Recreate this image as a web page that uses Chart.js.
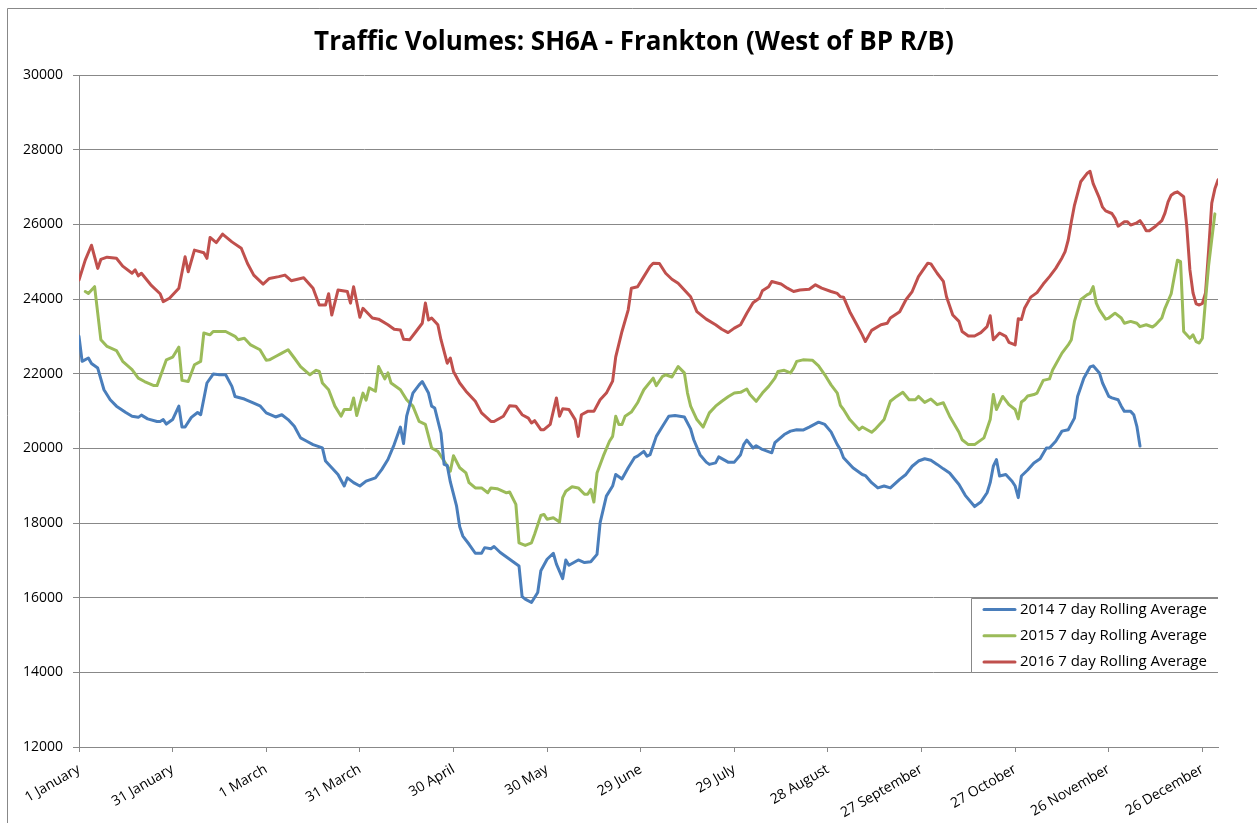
<!DOCTYPE html>
<html>
<head>
<meta charset="utf-8">
<title>Traffic Volumes: SH6A - Frankton</title>
<script src="https://cdn.jsdelivr.net/npm/chart.js@4.4.1/dist/chart.umd.min.js"></script>
<style>
  html, body { margin: 0; padding: 0; background: #fff; }
  #wrap { width: 1257px; height: 823px; }
</style>
</head>
<body>
<div id="wrap"><canvas id="trafficChart" width="1257" height="823"></canvas></div>
<script>
// x axis = day of the year (0 = 1 January), ticks every 30 days
const tickDays = [0, 30, 60, 90, 120, 150, 180, 210, 240, 270, 300, 330, 360];
const tickLabels = ['1 January', '31 January', '1 March', '31 March', '30 April', '30 May', '29 June',
  '29 July', '28 August', '27 September', '27 October', '26 November', '26 December'];
const seriesNames = ['2014 7 day Rolling Average', '2015 7 day Rolling Average', '2016 7 day Rolling Average'];
const seriesColors = ['#4a7ebb', '#9bbb59', '#c0504d'];
const chartTitle = 'Traffic Volumes: SH6A - Frankton (West of BP R/B)';

// 2014 (blue)
const days2014 = [0,1,3,4,6,8,10,12,15,17,19,20,22,25,26,27,28,30,32,33,34,36,38,39,41,43,45,47,49,50,53,56,58,
  60,63,65,67,69,71,73,75,78,79,81,83,85,86,88,90,92,95,97,99,101,103,104,105,107,109,110,112,113,114,116,117,118,
  119,121,122,123,125,127,129,130,132,133,135,138,141,142,143,145,147,148,150,152,153,155,156,157,160,162,164,166,
  167,169,171,172,174,176,178,179,181,182,183,185,187,189,191,194,196,197,199,201,202,204,205,208,210,212,213,214,
  216,217,219,222,223,226,228,230,232,234,237,239,241,243,244,245,248,251,252,254,256,258,260,263,265,267,269,271,
  273,275,277,279,282,284,287,289,291,292,293,294,295,297,299,300,301,302,304,306,308,310,311,313,315,317,319,320,
  322,324,325,327,328,330,331,333,334,335,337,338,339,340];
const vol2014 = [23000,22330,22420,22270,22150,21570,21300,21130,20960,20860,20830,20890,20790,20720,20720,20770,20650,20770,21130,20570,20570,20830,20960,20900,21750,21990,21970,21970,21660,21390,21320,21210,21140,
  20950,20840,20900,20770,20590,20280,20190,20100,20010,19660,19480,19300,18990,19210,19080,18990,19120,19210,19430,19700,20100,20570,20130,20860,21480,21700,21790,21480,21130,21080,20410,19570,19540,
  19100,18450,17900,17650,17430,17190,17190,17340,17310,17370,17210,17030,16850,16030,15960,15870,16140,16720,17030,17190,16900,16510,17010,16870,17010,16940,16960,17160,
  18010,18720,18990,19300,19180,19480,19750,19790,19920,19790,19830,20320,20590,20860,20880,20840,20520,20230,19830,19630,19570,19610,19770,19630,19630,19830,20100,20220,
  20010,20070,19970,19880,20150,20370,20460,20500,20490,20570,20700,20640,20440,20100,19970,19750,19480,19300,19270,19080,18940,18990,18940,19170,19300,19520,19660,19720,
  19680,19570,19450,19340,19030,18740,18440,18560,18810,19080,19520,19700,19260,19300,19120,18990,18680,19260,19420,19610,19720,20010,20010,20190,20460,20500,20810,21390,
  21880,22180,22210,22020,21750,21390,21350,21300,21130,20990,20990,20900,20590,20060];

// 2015 (green)
const days2015 = [2,3,5,7,9,12,14,17,19,21,24,25,28,30,32,33,35,37,39,40,42,43,47,50,51,53,55,58,60,61,63,65,67,69,
  71,74,76,77,78,80,82,84,85,87,88,89,91,92,93,95,96,98,99,100,103,105,107,109,111,113,115,117,119,120,122,124,125,
  127,129,131,132,134,137,138,140,141,143,145,146,148,149,150,152,154,155,156,158,160,162,163,164,165,166,168,170,
  171,172,173,174,175,177,179,180,181,184,185,187,188,190,192,194,195,196,198,200,202,204,206,208,210,212,214,215,
  217,219,221,223,224,226,228,229,230,232,235,237,239,241,243,244,245,247,250,251,254,255,258,260,262,264,266,268,
  269,271,273,275,277,279,282,283,285,287,290,292,293,294,296,298,300,301,302,303,304,306,307,309,311,312,315,317,
  318,319,321,323,324,325,326,327,329,330,332,334,335,337,339,340,342,344,345,347,348,350,351,352,353,354,356,357,
  358,359,360,361,362,363,364];
const vol2015 = [24200,24150,24330,22910,22730,22620,22330,22110,21880,21790,21680,21680,22370,22440,22710,21820,21790,22240,22330,23090,23040,23130,23130,23000,22910,22950,22770,22640,22360,22370,22460,22550,22640,22420,
  22190,21970,22090,22060,21750,21570,21130,20860,21040,21040,21350,20880,21480,21290,21620,21530,22190,21860,22020,21750,21570,21300,21130,20720,20640,20010,19920,19660,19390,19800,19480,19340,19080,
  18940,18940,18810,18940,18920,18810,18830,18500,17470,17400,17470,17700,18200,18230,18100,18140,18030,18680,18850,18970,18940,18770,18770,18900,18560,19340,19790,20190,
  20320,20860,20640,20640,20860,20970,21220,21400,21570,21880,21680,21930,21970,21910,22190,22020,21480,21130,20770,20570,20950,21130,21260,21380,21480,21500,21590,21440,
  21260,21480,21660,21880,22060,22090,22020,22150,22330,22370,22360,22210,21970,21700,21480,21150,21040,20770,20500,20570,20430,20500,20770,21260,21390,21500,21300,21300,
  21390,21230,21320,21170,21220,20860,20430,20230,20100,20100,20280,20770,21440,21040,21390,21170,21040,20790,21240,21300,21400,21440,21480,21820,21860,22100,22550,22770,
  22910,23400,23980,24110,24150,24330,23890,23710,23460,23490,23620,23490,23350,23400,23350,23260,23310,23250,23310,23490,23750,24140,24600,25040,25000,23130,22950,23040,
  22860,22820,22950,23970,24900,25600,26280];

// 2016 (red)
const days2016 = [0,2,4,6,7,9,12,14,17,18,19,20,23,26,27,29,32,34,35,37,40,41,42,44,46,49,52,54,56,59,61,64,66,68,
  72,75,77,79,80,81,83,86,87,88,90,91,94,96,99,101,103,104,106,108,110,111,112,113,115,116,118,119,120,122,124,127,
  129,132,133,136,138,140,142,144,145,146,148,149,151,153,154,155,157,159,160,161,163,165,167,169,171,172,174,176,
  177,179,181,183,184,186,188,190,192,194,196,198,201,204,206,208,210,212,214,216,218,219,221,222,225,227,229,231,
  234,236,238,241,243,244,245,247,249,251,252,254,257,259,260,263,265,267,269,272,273,275,277,278,280,282,283,285,
  287,289,291,292,293,295,297,298,300,301,302,303,305,307,309,311,313,315,316,317,318,319,321,323,324,325,327,328,
  329,331,332,333,335,336,337,339,340,341,342,343,345,347,348,349,350,351,352,354,355,356,357,358,359,360,361,362,
  363,364,365];
const vol2016 = [24510,25040,25440,24820,25060,25120,25090,24880,24690,24780,24620,24690,24380,24140,23930,24020,24290,25130,24730,25310,25240,25090,25650,25510,25740,25530,25360,24950,24640,24400,24550,24600,24640,24490,
  24570,24290,23840,23840,24140,23570,24240,24200,23890,24330,23510,23750,23490,23460,23310,23190,23170,22920,22910,23130,23350,23890,23440,23490,23310,22910,22280,22420,22060,21750,21530,21260,
  20950,20720,20720,20860,21140,21130,20900,20810,20680,20740,20500,20500,20640,21350,20860,21060,21040,20770,20320,20900,20990,20990,21300,21480,21800,22450,23130,23710,
  24290,24330,24600,24870,24960,24950,24690,24530,24420,24240,24060,23660,23460,23310,23190,23100,23220,23310,23620,23900,24020,24220,24330,24470,24400,24290,24200,24240,
  24260,24380,24290,24200,24150,24060,24050,23660,23350,23040,22860,23160,23310,23350,23490,23660,23980,24200,24600,24960,24940,24690,24470,24060,23570,23400,23130,23010,
  23010,23100,23260,23550,22910,23090,23000,22840,22770,23470,23450,23750,24050,24170,24400,24600,24820,25100,25270,25580,26070,26510,27140,27360,27420,27090,26700,26460,
  26360,26290,26160,25950,26070,26070,25980,26040,26100,25980,25830,25830,25950,26100,26300,26600,26780,26840,26870,26740,25940,24780,24160,23870,23840,23880,24160,25310,
  26570,26950,27190];

const yMin = 12000, yMax = 30000, yStep = 2000;

const FONT = "'Open Sans', 'DejaVu Sans', sans-serif";
const GRID = '#888888';

function toPoints(days, vals) {
  return days.map((d, i) => ({ x: d, y: vals[i] }));
}

// white page, thin outer chart border and the title
const frame = {
  id: 'frame',
  beforeDraw(chart) {
    const c = chart.ctx;
    c.save();
    c.fillStyle = '#fff';
    c.fillRect(0, 0, chart.width, chart.height);
    c.strokeStyle = GRID;
    c.lineWidth = 1;
    c.beginPath();
    c.moveTo(7.5, chart.height);
    c.lineTo(7.5, 8.5);
    c.lineTo(chart.width, 8.5);
    c.stroke();
    c.font = 'bold 26px ' + FONT;
    c.fillStyle = '#000';
    c.textAlign = 'center';
    c.textBaseline = 'middle';
    c.fillText(chartTitle, 634, 43);
    c.restore();
  }
};

// excel style legend box inside the plot, bottom right
const boxLegend = {
  id: 'boxLegend',
  afterDraw(chart) {
    const c = chart.ctx;
    const ys = chart.scales.y;
    const area = chart.chartArea;
    const top = Math.round(ys.getPixelForValue(16000)) + 0.5;
    const bottom = Math.round(ys.getPixelForValue(14000)) + 0.5;
    const left = 971.5;
    c.save();
    c.fillStyle = '#fff';
    c.fillRect(left, top, area.right - left, bottom - top);
    c.strokeStyle = GRID;
    c.lineWidth = 1;
    c.beginPath();
    c.moveTo(area.right, top); c.lineTo(left, top); c.lineTo(left, bottom); c.lineTo(area.right, bottom);
    c.stroke();
    c.font = '15px ' + FONT;
    c.textBaseline = 'middle';
    c.fillStyle = '#000';
    chart.data.datasets.forEach((ds, i) => {
      const y = top + 11 + i * 26.3;
      c.strokeStyle = ds.borderColor;
      c.lineWidth = 3;
      c.lineCap = 'round';
      c.beginPath();
      c.moveTo(984, y); c.lineTo(1015, y);
      c.stroke();
      c.fillText(ds.label, 1020, y);
    });
    c.restore();
  }
};

const ctx = document.getElementById('trafficChart').getContext('2d');
const chart = new Chart(ctx, {
  type: 'line',
  data: {
    datasets: [
      { label: seriesNames[0], data: toPoints(days2014, vol2014), borderColor: seriesColors[0] },
      { label: seriesNames[1], data: toPoints(days2015, vol2015), borderColor: seriesColors[1] },
      { label: seriesNames[2], data: toPoints(days2016, vol2016), borderColor: seriesColors[2] }
    ]
  },
  options: {
    responsive: false,
    animation: false,
    layout: { padding: { left: 0, right: 39, top: 75, bottom: 0 } },
    elements: {
      point: { radius: 0 },
      line: { tension: 0, borderWidth: 3, borderCapStyle: 'round', borderJoinStyle: 'round', fill: false }
    },
    plugins: {
      legend: { display: false },
      tooltip: { enabled: false },
      title: { display: false }
    },
    scales: {
      x: {
        type: 'linear',
        min: 0,
        max: 365,
        afterBuildTicks: (s) => { s.ticks = tickDays.map(v => ({ value: v })); },
        afterFit: (s) => { s.height = 76; },
        ticks: {
          autoSkip: false,
          minRotation: 30,
          maxRotation: 30,
          padding: 9,
          color: '#000',
          font: { family: FONT, size: 14 },
          callback: (v, i) => tickLabels[i]
        },
        grid: { drawOnChartArea: false, drawTicks: true, tickLength: 5, color: GRID },
        border: { color: GRID, width: 1 }
      },
      y: {
        min: yMin,
        max: yMax,
        afterFit: (s) => { s.width = 79; },
        ticks: {
          stepSize: yStep,
          padding: 10,
          color: '#000',
          font: { family: FONT, size: 14 },
          callback: (v) => String(v)
        },
        grid: { color: GRID, lineWidth: 1, tickLength: 6 },
        border: { color: GRID, width: 1 }
      }
    }
  },
  plugins: [frame, boxLegend]
});
</script>
</body>
</html>
